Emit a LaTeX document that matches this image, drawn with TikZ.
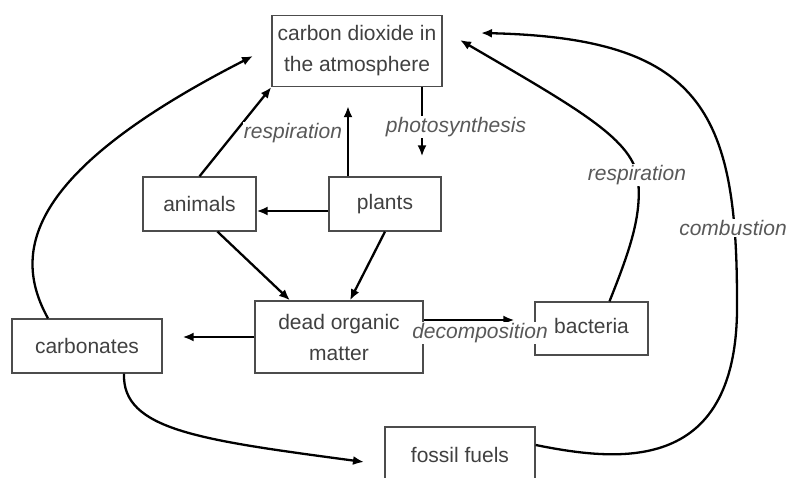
\documentclass[tikz,border=0pt]{standalone}
\usepackage{fontspec}
\setmainfont{Liberation Sans}
\usetikzlibrary{calc,arrows.meta}

\begin{document}
\begin{tikzpicture}[x=1pt,y=-1pt,>={Latex[length=11pt,width=9pt]},
    box/.style={draw=black!70,line width=1.3pt,text=black!75,align=center,inner sep=0pt,font=\fontsize{21}{31}\selectfont},
    lbl/.style={fill=white,inner sep=1pt,text=black!65,font=\fontsize{21}{25}\selectfont\itshape},
    arr/.style={->,line width=2.3pt}]
    \useasboundingbox(0,0)rectangle(788,478);
    \clip(0,0)rectangle(788,478);
    \begin{scope}[shift={(0,0)}]
      \node[box,minimum width=170pt,minimum height=71pt](co2)at(357,51){carbon dioxide in\\the atmosphere};
      \node[box,minimum width=113pt,minimum height=54pt](animals)at(199.5,204){animals};
      \node[box,minimum width=112pt,minimum height=54pt](plants)at(385,204){plants};
      \node[box,minimum width=168pt,minimum height=72pt](dom)at(339,337){dead organic\\matter};
      \node[box,minimum width=150pt,minimum height=54pt](carbonates)at(87,346){carbonates};
      \node[box,minimum width=113pt,minimum height=53pt](bacteria)at(591.5,328.5){\raisebox{5pt}{bacteria}};
      \node[box,minimum width=150pt,minimum height=56pt](fossil)at(460,455){fossil fuels};
      \coordinate(respin)at(460,40);
      \coordinate(combin)at(481,33);
      \coordinate(carbin)at(253,56);
      \coordinate(fossin)at(364,462);
      % short arrows
      \draw[arr](animals.north)--(co2.south west);
      \draw[arr,shorten >=19pt]([xshift=-37pt]plants.north)--([xshift=-37pt]plants.north|-co2.south);
      \draw[arr,shorten >=20pt]([xshift=65pt]co2.south)--([xshift=65pt]co2.south|-plants.north);
      \draw[arr]([yshift=-7pt]plants.west)--([yshift=-7pt]animals.east);
      \draw[arr]([xshift=18pt]animals.south)--([xshift=-49pt]dom.north);
      \draw[arr](plants.south)--([xshift=11pt]dom.north);
      \draw[arr,shorten >=20pt](dom.west)--(dom.west-|carbonates.east);
      \draw[arr,shorten >=20pt]([yshift=17pt]dom.east)--([yshift=17pt]dom.east-|bacteria.west);
      % long curves
      \draw[arr]([xshift=18pt]bacteria.north)..controls(630,250)and(642,215)..(638,180)..controls(634,140)and(580,110)..(respin);
      \draw[arr]([yshift=10pt]fossil.east)..controls(620,462)and(740,475)..(737,300)..controls(737,110)and(700,38)..(combin);
      \draw[arr]([xshift=-39pt]carbonates.north)..controls(10,250)and(30,170)..(carbin);
      \draw[arr]([xshift=37pt]carbonates.south)..controls(122,430)and(200,440)..(fossin);
      % labels
      \node[lbl](photo)at(456,127){photosynthesis};
      \node[lbl](resp1)at(293,133){respiration};
      \node[lbl](decomp)at(480,333){decomposition};
      \node[lbl](resp2)at(637,175){respiration};
      \node[lbl](comb)at(733,228){combustion};
    \end{scope}
  \end{tikzpicture}
\end{document}
